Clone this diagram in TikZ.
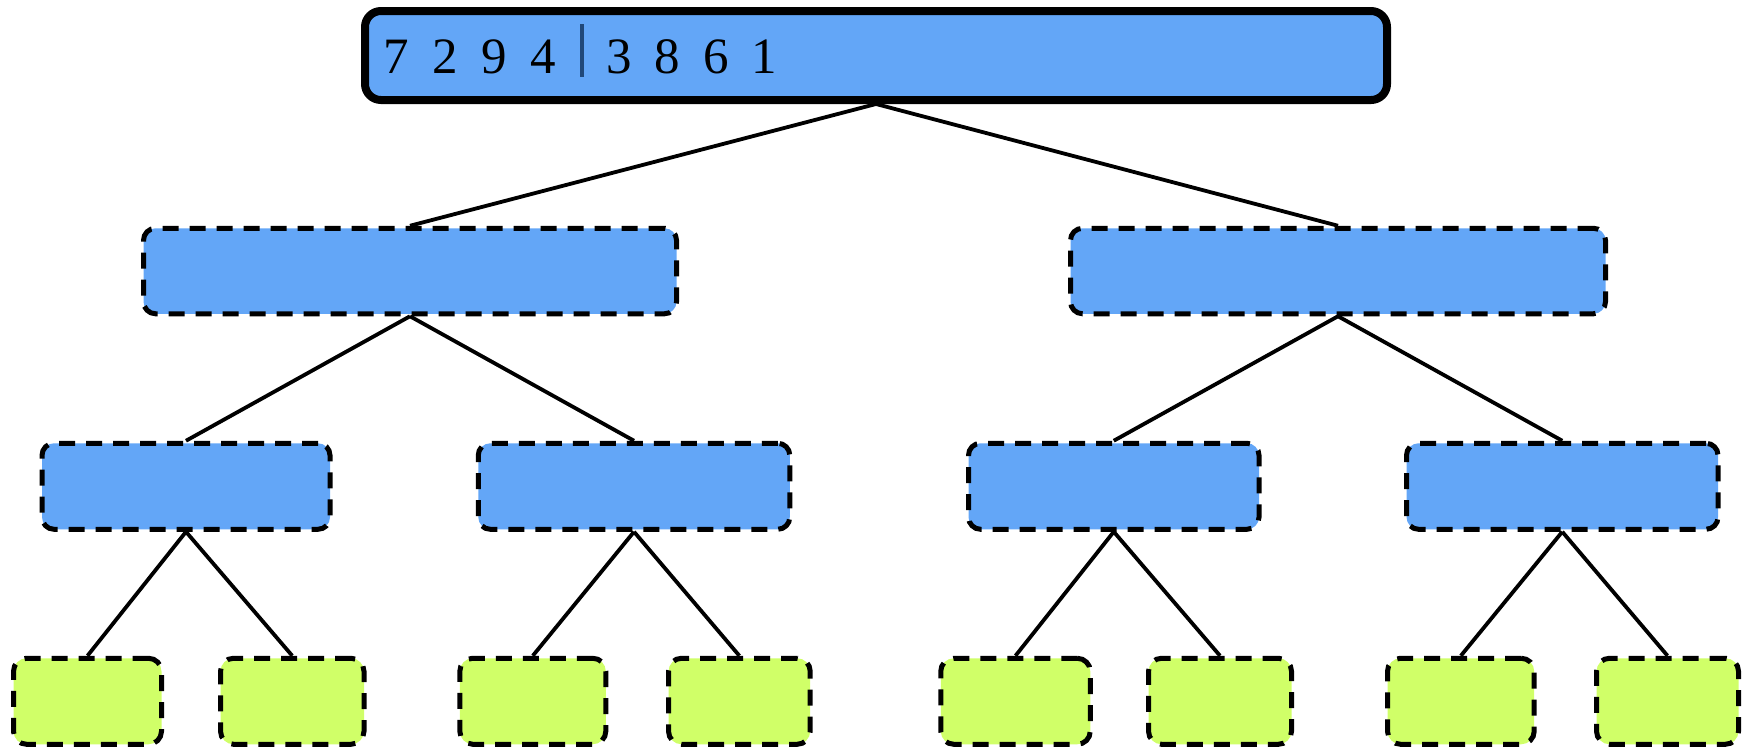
\documentclass[tikz,border=0pt]{standalone}
\usepackage{fontspec}
\setmainfont{Liberation Serif}
\definecolor{boxblue}{RGB}{99,166,247}
\definecolor{leafgreen}{RGB}{208,255,104}
\definecolor{barblue}{RGB}{32,72,122}
\begin{document}
\begin{tikzpicture}[x=1pt,y=-1pt,
  topbox/.style={draw=black,line width=8pt,fill=boxblue,rounded corners=16pt,inner sep=0pt,minimum width=1022pt,minimum height=89pt},
  midbox/.style={draw=black,line width=5pt,dash pattern=on 16pt off 11pt,fill=boxblue,rounded corners=12pt,inner sep=0pt,minimum height=85.5pt},
  leafbox/.style={draw=black,line width=5pt,dash pattern=on 16pt off 11pt,fill=leafgreen,rounded corners=13pt,inner sep=0pt,minimum height=86pt},
  digit/.style={anchor=base,inner sep=0pt,font=\fontsize{51}{60}\selectfont},
  edge/.style={draw=black,line width=3.8pt}]
\useasboundingbox (0,0) rectangle (1750,748);
% nodes
\node[topbox] (top) at (876,55.5) {};
\node[midbox,minimum width=533pt] (a) at (410,271) {};
\node[midbox,minimum width=535pt] (b) at (1338,271) {};
\node[midbox,minimum width=288pt,minimum height=86pt] (aa) at (186,486.25) {};
\node[midbox,minimum width=311.5pt,minimum height=86pt] (ab) at (634,486.25) {};
\node[midbox,minimum width=290.5pt,minimum height=86pt] (ba) at (1113.75,486.25) {};
\node[midbox,minimum width=311.5pt,minimum height=86pt] (bb) at (1562.25,486.25) {};
\node[leafbox,minimum width=148pt] (l1) at (87.5,701.25) {};
\node[leafbox,minimum width=143.5pt] (l2) at (292.25,701.25) {};
\node[leafbox,minimum width=146pt] (l3) at (532.8,701.25) {};
\node[leafbox,minimum width=141.7pt] (l4) at (739.35,701.25) {};
\node[leafbox,minimum width=149.5pt] (l5) at (1015.5,701.25) {};
\node[leafbox,minimum width=143pt] (l6) at (1220,701.25) {};
\node[leafbox,minimum width=146.7pt] (l7) at (1460.85,701.25) {};
\node[leafbox,minimum width=142pt] (l8) at (1667.5,701.25) {};
% digits
\node[digit] (d1) at (396.5,73) {7};
\node[digit] (d2) at (445.3,73) {2};
\node[digit] (d3) at (494.1,73) {9};
\node[digit] (d4) at (542.9,73) {4};
\node[digit] (d5) at (619,73) {3};
\node[digit] (d6) at (667.5,73) {8};
\node[digit] (d7) at (716,73) {6};
\node[digit] (d8) at (764.5,73) {1};
\coordinate (bartop) at (582,24);
\coordinate (barbot) at (582,77);
\draw[barblue,line width=4pt] (bartop) -- (barbot);
% connectors
\draw[edge] (top.south) -- (a.north);
\draw[edge] (top.south) -- (b.north);
\draw[edge] (a.south) -- (aa.north);
\draw[edge] (a.south) -- (ab.north);
\draw[edge] (b.south) -- (ba.north);
\draw[edge] (b.south) -- (bb.north);
\draw[edge] (aa.south) -- (l1.north);
\draw[edge] (aa.south) -- (l2.north);
\draw[edge] (ab.south) -- (l3.north);
\draw[edge] (ab.south) -- (l4.north);
\draw[edge] (ba.south) -- (l5.north);
\draw[edge] (ba.south) -- (l6.north);
\draw[edge] (bb.south) -- (l7.north);
\draw[edge] (bb.south) -- (l8.north);
\end{tikzpicture}
\end{document}
